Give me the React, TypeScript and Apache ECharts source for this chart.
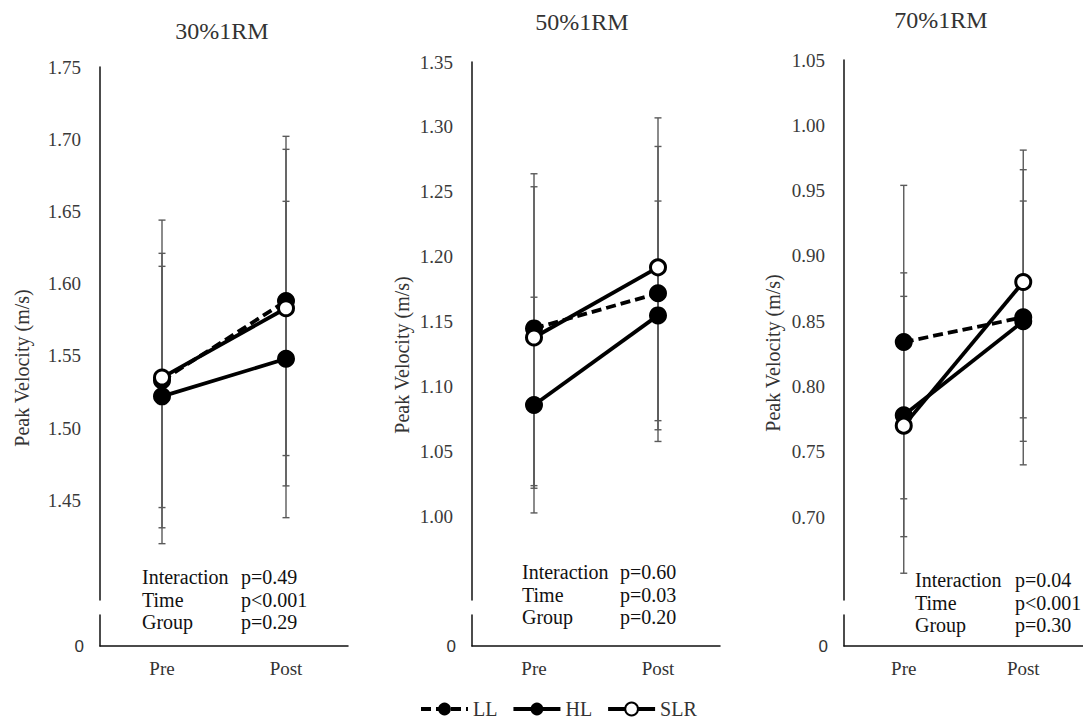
import React, { useEffect, useRef } from "react";
import * as echarts from "echarts";

const categories = ["Pre", "Post"];
const groupNames = ["LL", "HL", "SLR"];
const panelTitles = ["30%1RM", "50%1RM", "70%1RM"];

// means
const LL30 = [1.533, 1.588];
const HL30 = [1.522, 1.548];
const SLR30 = [1.535, 1.583];
const LL50 = [1.145, 1.172];
const HL50 = [1.086, 1.155];
const SLR50 = [1.138, 1.192];
const LL70 = [0.834, 0.853];
const HL70 = [0.778, 0.85];
const SLR70 = [0.77, 0.88];

// error bar ends (upper / lower)
const LL30Hi = [1.621, 1.693];
const LL30Lo = [1.445, 1.481];
const HL30Hi = [1.612, 1.657];
const HL30Lo = [1.431, 1.438];
const SLR30Hi = [1.644, 1.702];
const SLR30Lo = [1.42, 1.46];

const LL50Hi = [1.264, 1.285];
const LL50Lo = [1.024, 1.058];
const HL50Hi = [1.169, 1.243];
const HL50Lo = [1.003, 1.067];
const SLR50Hi = [1.254, 1.307];
const SLR50Lo = [1.022, 1.074];

const LL70Hi = [0.954, 0.966];
const LL70Lo = [0.714, 0.74];
const HL70Hi = [0.869, 0.942];
const HL70Lo = [0.685, 0.758];
const SLR70Hi = [0.887, 0.981];
const SLR70Lo = [0.657, 0.776];

// y tick labels
const ticks30 = [1.45, 1.5, 1.55, 1.6, 1.65, 1.7, 1.75];
const ticks50 = [1.0, 1.05, 1.1, 1.15, 1.2, 1.25, 1.3, 1.35];
const ticks70 = [0.7, 0.75, 0.8, 0.85, 0.9, 0.95, 1.0, 1.05];

const statLabels = ["Interaction", "Time", "Group"];
const stats30 = ["p=0.49", "p<0.001", "p=0.29"];
const stats50 = ["p=0.60", "p=0.03", "p=0.20"];
const stats70 = ["p=0.04", "p<0.001", "p=0.30"];

const SERIF = '"Liberation Serif", "Times New Roman", serif';
const SANS = '"Liberation Sans", Arial, sans-serif';

const panels = [
  {
    title: panelTitles[0], means: [LL30, HL30, SLR30],
    hi: [LL30Hi, HL30Hi, SLR30Hi], lo: [LL30Lo, HL30Lo, SLR30Lo],
    ticks: ticks30, stats: stats30,
    layout: { left: 100, width: 248, top: 67, height: 533, min: 1.381, max: 1.75,
      titleX: 222, titleY: 31, nameX: 22, nameY: 368, statX1: 142, statX2: 241, statY: 577 },
  },
  {
    title: panelTitles[1], means: [LL50, HL50, SLR50],
    hi: [LL50Hi, HL50Hi, SLR50Hi], lo: [LL50Lo, HL50Lo, SLR50Lo],
    ticks: ticks50, stats: stats50,
    layout: { left: 472, width: 248, top: 62, height: 538, min: 0.936, max: 1.35,
      titleX: 582, titleY: 22, nameX: 402, nameY: 355, statX1: 522, statX2: 620, statY: 572 },
  },
  {
    title: panelTitles[2], means: [LL70, HL70, SLR70],
    hi: [LL70Hi, HL70Hi, SLR70Hi], lo: [LL70Lo, HL70Lo, SLR70Lo],
    ticks: ticks70, stats: stats70,
    layout: { left: 844, width: 250, top: 60, height: 540, min: 0.6365, max: 1.05,
      titleX: 941, titleY: 20, nameX: 773, nameY: 353, statX1: 915, statX2: 1015, statY: 580 },
  },
];

export default function App() {
  const ref = useRef<HTMLDivElement>(null);

  useEffect(() => {
    if (!ref.current) return;
    const chart = echarts.init(ref.current, null, { renderer: "svg" });

    const grid: any[] = [];
    const xAxis: any[] = [];
    const yAxis: any[] = [];
    const series: any[] = [];
    const graphic: any[] = [];

    panels.forEach((p, i) => {
      const L = p.layout;
      const up = i * 2;
      const low = i * 2 + 1;
      grid.push({ left: L.left, top: L.top, width: L.width, height: L.height });
      grid.push({ left: L.left, top: 615, width: L.width, height: 31 });

      xAxis.push({
        type: "category", gridIndex: up, data: categories, boundaryGap: true,
        show: false,
      });
      xAxis.push({
        type: "category", gridIndex: low, data: categories, boundaryGap: true,
        axisLine: { show: true, lineStyle: { color: "#111", width: 1.5 } },
        axisTick: { show: false },
        axisLabel: { show: true, margin: 13, fontFamily: SERIF, fontSize: 19, color: "#333" },
        splitLine: { show: false },
      });
      yAxis.push({
        type: "value", gridIndex: up, min: L.min, max: L.max,
        axisLine: { show: true, lineStyle: { color: "#111", width: 1.5 } },
        axisTick: { show: false },
        splitLine: { show: false },
        axisLabel: {
          show: true, customValues: p.ticks, margin: 19,
          fontFamily: SERIF, fontSize: 19, color: "#3a3a3a",
          formatter: (v: number) => v.toFixed(2),
        },
      });
      yAxis.push({
        type: "value", gridIndex: low, min: 0, max: 1,
        axisLine: { show: true, lineStyle: { color: "#111", width: 1.5 } },
        axisTick: { show: false },
        splitLine: { show: false },
        axisLabel: {
          show: true, customValues: [0], margin: 16,
          fontFamily: SANS, fontSize: 17, color: "#333",
          formatter: (v: number) => String(v),
        },
      });

      // error bars
      const errData: any[] = [];
      for (let g = 0; g < 3; g++) {
        for (let c = 0; c < categories.length; c++) {
          errData.push([c, p.lo[g][c], p.hi[g][c]]);
        }
      }
      series.push({
        type: "custom", xAxisIndex: up, yAxisIndex: up, z: 1,
        encode: { x: 0, y: [1, 2] },
        data: errData,
        renderItem: (params: any, api: any) => {
          const x = api.value(0);
          const a = api.coord([x, api.value(1)]);
          const b = api.coord([x, api.value(2)]);
          const w = 3.5;
          const st = { stroke: "#5a5a5a", lineWidth: 1.4 };
          return {
            type: "group",
            children: [
              { type: "line", shape: { x1: a[0], y1: a[1], x2: b[0], y2: b[1] }, style: st },
              { type: "line", shape: { x1: a[0] - w, y1: a[1], x2: a[0] + w, y2: a[1] }, style: st },
              { type: "line", shape: { x1: b[0] - w, y1: b[1], x2: b[0] + w, y2: b[1] }, style: st },
            ],
          };
        },
      });

      // lines
      const styles = [
        { dash: [10, 5], fill: "#000", size: 18, border: 0 },
        { dash: "solid", fill: "#000", size: 18, border: 0 },
        { dash: "solid", fill: "#fff", size: 15, border: 3 },
      ];
      [2, 1, 0].forEach((g) => {
        const s = styles[g];
        series.push({
          type: "line", name: groupNames[g], xAxisIndex: up, yAxisIndex: up,
          data: p.means[g], z: 3 + (g === 2 ? 2 : g === 0 ? 1 : 0),
          symbol: "circle", symbolSize: s.size, showSymbol: true,
          lineStyle: { color: "#000", width: 3.8, type: s.dash },
          itemStyle: { color: s.fill, borderColor: "#000", borderWidth: s.border },
          emphasis: { disabled: true },
        });
      });

      graphic.push({
        type: "text", x: L.titleX, y: L.titleY,
        style: { text: p.title, textAlign: "center", textVerticalAlign: "middle",
          fontFamily: SERIF, fontSize: 24, fill: "#333" },
      });
      graphic.push({
        type: "text", x: L.nameX, y: L.nameY, rotation: Math.PI / 2,
        style: { text: "Peak Velocity (m/s)", x: 0, y: 0, textAlign: "center", textVerticalAlign: "middle",
          fontFamily: SERIF, fontSize: 20, fill: "#333" },
      });
      statLabels.forEach((lab, k) => {
        graphic.push({
          type: "text", x: L.statX1, y: L.statY + k * 22.5,
          style: { text: lab, textAlign: "left", textVerticalAlign: "middle",
            fontFamily: SERIF, fontSize: 20, fill: "#111" },
        });
        graphic.push({
          type: "text", x: L.statX2, y: L.statY + k * 22.5,
          style: { text: p.stats[k], textAlign: "left", textVerticalAlign: "middle",
            fontFamily: SERIF, fontSize: 20, fill: "#111" },
        });
      });
    });

    chart.setOption({
      animation: false,
      backgroundColor: "#fff",
      grid, xAxis, yAxis, series, graphic,
      legend: {
        data: groupNames, left: 419, top: 699, padding: 0,
        itemWidth: 47, itemHeight: 16, itemGap: 14,
        lineStyle: { width: 4 },
        textStyle: { fontFamily: SERIF, fontSize: 20, lineHeight: 19, color: "#333" },
      },
    });

    return () => chart.dispose();
  }, []);

  return (
    <div
      ref={ref}
      style={{ position: "absolute", left: 0, top: 0, width: 1083, height: 720 }}
    />
  );
}
